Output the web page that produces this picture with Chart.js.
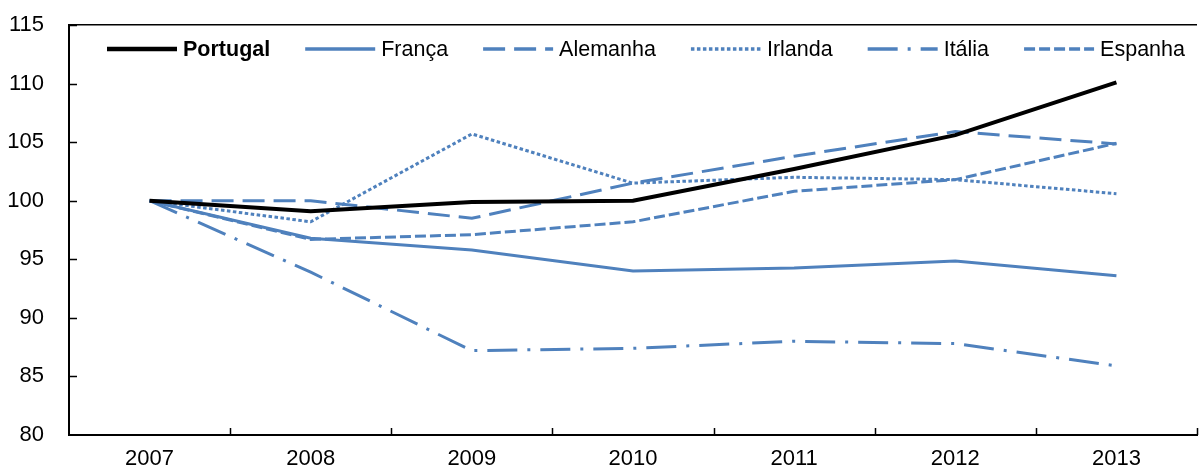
<!DOCTYPE html>
<html>
<head>
<meta charset="utf-8">
<script src="https://cdn.jsdelivr.net/npm/chart.js@4/dist/chart.umd.min.js"></script>
<style>
  html, body { margin: 0; padding: 0; background: #fff; }
  #wrap { width: 1200px; height: 470px; }
</style>
</head>
<body>
<div id="wrap"><canvas id="lineChart" width="1200" height="470"></canvas></div>
<script>
// Data (index, 2007 = 100)
const years = ['2007', '2008', '2009', '2010', '2011', '2012', '2013'];
const portugal = [100, 99.1, 99.9, 100.0, 102.7, 105.6, 110.1];
const franca = [100, 96.8, 95.8, 94.0, 94.25, 94.85, 93.6];
const alemanha = [100, 100.0, 98.5, 101.5, 103.8, 105.9, 104.85];
const irlanda = [100, 98.2, 105.7, 101.5, 102.0, 101.8, 100.6];
const italia = [100, 93.9, 87.2, 87.4, 88.0, 87.8, 85.9];
const espanha = [100, 96.7, 97.1, 98.2, 100.8, 101.8, 104.9];
const yTicks = [80, 85, 90, 95, 100, 105, 110, 115];

const FONT = '"Liberation Sans", Arial, sans-serif';
const BLUE = '#4F81BD';

// Function to build one line dataset
function makeSeries(label, data, color, width, dash, bold) {
    return {
        label: label,
        data: data,
        borderColor: color,
        backgroundColor: color,
        borderWidth: width,
        borderDash: dash,
        pointRadius: 0,
        tension: 0,
        fill: false,
        boldLabel: bold
    };
}

const datasets = [
    makeSeries('Portugal', portugal, '#000000', 4, [], true),
    makeSeries('França', franca, BLUE, 3, [], false),
    makeSeries('Alemanha', alemanha, BLUE, 3, [22, 9], false),
    makeSeries('Irlanda', irlanda, BLUE, 3, [3.5, 2.5], false),
    makeSeries('Itália', italia, BLUE, 3, [30, 10, 3, 10], false),
    makeSeries('Espanha', espanha, BLUE, 3, [11, 4], false)
];

// Inward tick marks on both axes
const innerTicks = {
    id: 'innerTicks',
    afterDraw(chart) {
        const ctx = chart.ctx;
        const x = chart.scales.x;
        const y = chart.scales.y;
        const area = chart.chartArea;
        ctx.save();
        ctx.strokeStyle = '#000';
        ctx.lineWidth = 1.5;
        ctx.beginPath();
        const step = x.getPixelForValue(1) - x.getPixelForValue(0);
        for (let i = 1; i <= years.length; i++) {
            const px = Math.round(x.getPixelForValue(0) + (i - 0.5) * step) + 0.5;
            ctx.moveTo(px, area.bottom);
            ctx.lineTo(px, area.bottom - 7);
        }
        yTicks.forEach(v => {
            if (v === yTicks[0]) return;
            const py = Math.round(y.getPixelForValue(v)) + 0.5;
            ctx.moveTo(area.left, py);
            ctx.lineTo(area.left + 8, py);
        });
        ctx.stroke();
        ctx.restore();
    }
};

// Legend drawn in one row inside the plot
const rowLegend = {
    id: 'rowLegend',
    afterDraw(chart) {
        const ctx = chart.ctx;
        const cy = 49;
        let cx = 107;
        ctx.save();
        ctx.textBaseline = 'middle';
        ctx.textAlign = 'left';
        chart.data.datasets.forEach(ds => {
            ctx.beginPath();
            ctx.strokeStyle = ds.borderColor;
            ctx.lineWidth = ds.borderWidth + 0.5;
            ctx.setLineDash(ds.borderDash);
            ctx.moveTo(cx, cy);
            ctx.lineTo(cx + 70, cy);
            ctx.stroke();
            ctx.setLineDash([]);
            ctx.font = (ds.boldLabel ? 'bold ' : '') + '21.5px ' + FONT;
            ctx.fillStyle = '#000';
            ctx.fillText(ds.label, cx + 76, cy + 1);
            cx += 76 + ctx.measureText(ds.label).width + 35;
        });
        ctx.restore();
    }
};

const ctx = document.getElementById('lineChart').getContext('2d');
new Chart(ctx, {
    type: 'line',
    data: { labels: years, datasets: datasets },
    options: {
        responsive: false,
        animation: false,
        layout: { padding: { top: 25, right: 3, left: 0, bottom: 0 } },
        plugins: {
            legend: { display: false },
            tooltip: { enabled: false }
        },
        scales: {
            x: {
                offset: true,
                grid: { display: false },
                border: { display: true, color: '#000', width: 2 },
                ticks: {
                    color: '#000',
                    padding: 3,
                    font: { family: FONT, size: 22 }
                },
                afterFit: s => { s.height = 35; }
            },
            y: {
                min: 80,
                max: 115,
                afterBuildTicks: s => { s.ticks = yTicks.map(v => ({ value: v })); },
                grid: {
                    drawTicks: false,
                    color: c => (c.tick && c.tick.value === 115 ? '#000' : 'rgba(0,0,0,0)'),
                    lineWidth: 1.5
                },
                border: { display: true, color: '#000', width: 2 },
                ticks: {
                    color: '#000',
                    padding: 25,
                    font: { family: FONT, size: 22 }
                },
                afterFit: s => {
                    s.width = 69;
                    s.paddingTop = 0;
                    s.paddingBottom = 0;
                }
            }
        }
    },
    plugins: [innerTicks, rowLegend]
});
</script>
</body>
</html>
